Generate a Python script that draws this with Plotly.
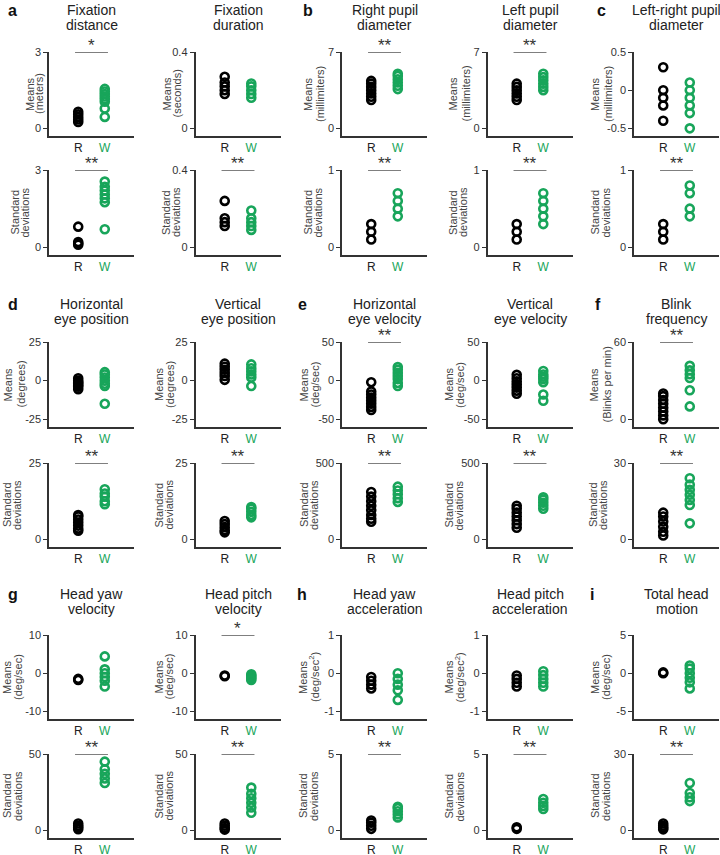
import plotly.graph_objects as go

# ---------------- data ----------------
# Group a-c
fixdist_mean_R = [0.25, 0.35, 0.45, 0.55, 0.65]
fixdist_mean_W = [0.45, 0.78, 1.05, 1.15, 1.25, 1.35, 1.45, 1.55]
fixdist_sd_R = [0.1, 0.15, 0.2, 0.8]
fixdist_sd_W = [0.7, 1.75, 1.9, 2.05, 2.2, 2.35, 2.55]
fixdur_mean_R = [0.18, 0.2, 0.22, 0.24, 0.27]
fixdur_mean_W = [0.16, 0.18, 0.2, 0.22, 0.235]
fixdur_sd_R = [0.11, 0.13, 0.15, 0.24]
fixdur_sd_W = [0.09, 0.11, 0.13, 0.15, 0.19]
rpupil_mean_R = [2.6, 2.9, 3.2, 3.5, 3.8, 4.1, 4.35]
rpupil_mean_W = [3.6, 3.9, 4.2, 4.5, 4.8, 5.0]
rpupil_sd_R = [0.1, 0.2, 0.3]
rpupil_sd_W = [0.4, 0.5, 0.6, 0.7]
lpupil_mean_R = [2.6, 2.9, 3.2, 3.5, 3.8, 4.1]
lpupil_mean_W = [3.5, 3.8, 4.1, 4.4, 4.7, 5.0]
lpupil_sd_R = [0.1, 0.2, 0.3]
lpupil_sd_W = [0.3, 0.4, 0.5, 0.6, 0.7]
lrpupil_mean_R = [0.3, 0.0, -0.1, -0.2, -0.4]
lrpupil_mean_W = [0.1, 0.0, -0.1, -0.2, -0.3, -0.5]
lrpupil_sd_R = [0.1, 0.2, 0.3]
lrpupil_sd_W = [0.4, 0.5, 0.7, 0.8]
# Group d-f
hpos_mean_R = [-5.5, -4, -3, -2, -1, 0, 1.5]
hpos_mean_W = [-15, -3.5, -2, 0, 2, 4, 5.5]
hpos_sd_R = [2.8, 3.5, 4.5, 5.5, 6.5, 7.5, 8]
hpos_sd_W = [11.5, 12.5, 14, 15, 16.4]
vpos_mean_R = [0.5, 3, 5, 7, 9, 11]
vpos_mean_W = [-3.5, 2, 4, 6, 8, 10.5]
vpos_sd_R = [2.3, 3, 4, 5, 6]
vpos_sd_W = [7.2, 8, 9, 10, 10.6]
hvel_mean_R = [-2, -14, -18, -22, -26, -30, -34, -38]
hvel_mean_W = [-7, -3, 2, 6, 10, 14, 17.5]
hvel_sd_R = [115, 135, 160, 190, 220, 250, 280, 310]
hvel_sd_W = [245, 270, 295, 320, 345]
vvel_mean_R = [-17, -13, -9, -5, -1, 3, 7.5]
vvel_mean_W = [-26, -18, -2, 2, 5, 8, 12.5]
vvel_sd_R = [76, 100, 125, 150, 175, 200, 220]
vvel_sd_W = [200, 220, 240, 260, 275]
blink_mean_R = [0, 3, 6, 9, 12, 15, 18, 20]
blink_mean_W = [10, 22.5, 32, 35, 38, 41.5]
blink_sd_R = [1.5, 3, 5, 7, 9, 10.5]
blink_sd_W = [6.3, 13.5, 15.5, 17.5, 19.5, 21.5, 24]
# Group g-i
yawvel_mean_R = [-1.5, -1.8]
yawvel_mean_W = [-3.5, -2, -1, 0, 1, 4.4]
yawvel_sd_R = [0.8, 2, 3, 4.5]
yawvel_sd_W = [31, 34, 37, 40, 45]
pitchvel_mean_R = [-0.6, -0.8]
pitchvel_mean_W = [-0.3, -0.7, -1.0, -1.4, -1.8]
pitchvel_sd_R = [0.5, 1.5, 3, 4.5]
pitchvel_sd_W = [11.5, 15, 18, 21, 24, 28]
yawacc_mean_R = [-0.1, -0.2, -0.3, -0.4]
yawacc_mean_W = [0.0, -0.15, -0.3, -0.45, -0.7]
yawacc_sd_R = [0.1, 0.3, 0.5, 0.65]
yawacc_sd_W = [0.85, 1.05, 1.25, 1.45, 1.55]
pitchacc_mean_R = [-0.06, -0.15, -0.25, -0.35]
pitchacc_mean_W = [0.05, -0.05, -0.15, -0.25, -0.35]
pitchacc_sd_R = [0.1, 0.2]
pitchacc_sd_W = [1.4, 1.6, 1.8, 2.05]
headmot_mean_R = [0.0, 0.1]
headmot_mean_W = [-2, -1.2, -0.6, 0, 0.6, 1.0]
headmot_sd_R = [0.4, 1, 1.8, 2.7]
headmot_sd_W = [11.5, 13, 14.7, 18.6]

group_labels = ["R", "W"]

titles = [
    [("Fixation", "distance"), ("Fixation", "duration"), ("Right pupil", "diameter"),
     ("Left pupil", "diameter"), ("Left-right pupil", "diameter")],
    [("Horizontal", "eye position"), ("Vertical", "eye position"), ("Horizontal", "eye velocity"),
     ("Vertical", "eye velocity"), ("Blink", "frequency")],
    [("Head yaw", "velocity"), ("Head pitch", "velocity"), ("Head yaw", "acceleration"),
     ("Head pitch", "acceleration"), ("Total head", "motion")],
]
mean_units = [
    ["(meters)", "(seconds)", "(millimiters)", "(millimiters)", "(millimiters)"],
    ["(degrees)", "(degrees)", "(deg/sec)", "(deg/sec)", "(Blinks per min)"],
    ["(deg/sec)", "(deg/sec)", "(deg/sec<sup>2</sup>)", "(deg/sec<sup>2</sup>)", "(deg/sec)"],
]
mean_ticks = [
    [[0, 3], [0, 0.4], [0, 7], [0, 7], [-0.5, 0, 0.5]],
    [[-25, 0, 25], [-25, 0, 25], [-50, 0, 50], [-50, 0, 50], [0, 60]],
    [[-10, 0, 10], [-10, 0, 10], [-1, 0, 1], [-1, 0, 1], [-5, 0, 5]],
]
sd_ticks = [
    [[0, 3], [0, 0.4], [0, 1], [0, 1], [0, 1]],
    [[0, 25], [0, 25], [0, 500], [0, 500], [0, 30]],
    [[0, 50], [0, 50], [0, 5], [0, 5], [0, 30]],
]
mean_sig = [["*", "", "**", "**", ""], ["", "", "**", "", "**"], ["", "*", "", "", ""]]
sd_sig = [["**"] * 5, ["**"] * 5, ["**"] * 5]

mean_data = [
    [(fixdist_mean_R, fixdist_mean_W), (fixdur_mean_R, fixdur_mean_W), (rpupil_mean_R, rpupil_mean_W),
     (lpupil_mean_R, lpupil_mean_W), (lrpupil_mean_R, lrpupil_mean_W)],
    [(hpos_mean_R, hpos_mean_W), (vpos_mean_R, vpos_mean_W), (hvel_mean_R, hvel_mean_W),
     (vvel_mean_R, vvel_mean_W), (blink_mean_R, blink_mean_W)],
    [(yawvel_mean_R, yawvel_mean_W), (pitchvel_mean_R, pitchvel_mean_W), (yawacc_mean_R, yawacc_mean_W),
     (pitchacc_mean_R, pitchacc_mean_W), (headmot_mean_R, headmot_mean_W)],
]
sd_data = [
    [(fixdist_sd_R, fixdist_sd_W), (fixdur_sd_R, fixdur_sd_W), (rpupil_sd_R, rpupil_sd_W),
     (lpupil_sd_R, lpupil_sd_W), (lrpupil_sd_R, lrpupil_sd_W)],
    [(hpos_sd_R, hpos_sd_W), (vpos_sd_R, vpos_sd_W), (hvel_sd_R, hvel_sd_W),
     (vvel_sd_R, vvel_sd_W), (blink_sd_R, blink_sd_W)],
    [(yawvel_sd_R, yawvel_sd_W), (pitchvel_sd_R, pitchvel_sd_W), (yawacc_sd_R, yawacc_sd_W),
     (pitchacc_sd_R, pitchacc_sd_W), (headmot_sd_R, headmot_sd_W)],
]
panel_letters = ["a", "b", "c", "d", "e", "f", "g", "h", "i"]

# ---------------- layout geometry (pixels) ----------------
W_PX, H_PX = 720, 855
col_x0 = [49, 195.5, 342, 487.5, 634]
plot_w = 85
mean_rows = [(52, 136), (342, 427), (635, 719)]
sd_rows = [(170, 255), (463, 547), (754, 838)]
title_lines_y = [(10, 25), (304, 319), (594, 609)]
letter_pos = [[13, 308, 601], [13, 302, 598], [13, 302, 592]]
# horizontal offsets (px, from the y axis line) of the two y-title lines
mean_title_off = [
    [(-19, -10), (-29, -19), (-34, -22), (-35, -22), (-39, -26)],
    [(-42, -29), (-37, -26), (-39, -28), (-39, -28), (-41, -28)],
    [(-42, -31), (-37, -27), (-39, -28), (-39, -28), (-39, -28)],
]
sd_title_off = [
    [(-34, -24), (-29, -19), (-34, -24), (-34, -24), (-39, -28)],
    [(-42, -32), (-37, -27), (-38, -28), (-39, -29), (-41, -31)],
    [(-42, -31), (-37, -27), (-39, -28), (-39, -28), (-39, -28)],
]

BLACK = "#000000"
GREEN = "#18A55A"
AXC = "#333333"
FONT = "Liberation Sans, Arial, sans-serif"

fig = go.Figure()
layout = dict(
    template="none",
    width=W_PX, height=H_PX, margin=dict(l=0, r=0, t=0, b=0, autoexpand=False),
    paper_bgcolor="white", plot_bgcolor="white", showlegend=False,
    font=dict(family=FONT, color="#222222"),
)
shapes, annotations = [], []
ax_i = 0


def fmt(v):
    return "%g" % v


def add_panel(data, ticks, sig, ytitle_lines, title_off, row_px, c):
    global ax_i
    ax_i += 1
    xname = "xaxis" if ax_i == 1 else "xaxis%d" % ax_i
    yname = "yaxis" if ax_i == 1 else "yaxis%d" % ax_i
    xref = "x" if ax_i == 1 else "x%d" % ax_i
    yref = "y" if ax_i == 1 else "y%d" % ax_i
    lo, hi = min(ticks), max(ticks)
    rng = [lo - 0.1 * (hi - lo), hi]
    top, bot = row_px
    x0 = col_x0[c]
    layout[xname] = dict(
        domain=[x0 / W_PX, min((x0 + plot_w) / W_PX, 1.0)], anchor=yref, automargin=False,
        range=[-1.1, 2.1], showgrid=False, zeroline=False, showline=True,
        linecolor=AXC, linewidth=1.5, ticks="", tickvals=[0, 1],
        ticktext=["R", "<span style='color:%s'>W</span>" % GREEN],
        tickfont=dict(size=12, color="#222222", family=FONT), fixedrange=True,
    )
    layout[yname] = dict(
        domain=[1 - bot / H_PX, 1 - top / H_PX], anchor=xref, automargin=False,
        range=rng, showgrid=False, zeroline=False, showline=True,
        linecolor=AXC, linewidth=1.5, ticks="outside", ticklen=4, tickwidth=1,
        tickcolor=AXC, tickvals=ticks, ticktext=[fmt(t) for t in ticks],
        tickfont=dict(size=11, color="#333333", family=FONT),
        fixedrange=True,
    )
    # two-line rotated y title
    ymid = 1 - ((top + bot) / 2) / H_PX
    for line, off in zip(ytitle_lines, title_off):
        annotations.append(dict(text=line, xref="paper", yref="paper", x=(x0 + off) / W_PX, y=ymid,
                                xanchor="center", yanchor="middle", textangle=-90, showarrow=False,
                                font=dict(size=11, color="#444444", family=FONT)))
    r_vals, w_vals = data
    fig.add_trace(go.Scatter(
        x=[0] * len(r_vals), y=r_vals, mode="markers", xaxis=xref, yaxis=yref,
        marker=dict(symbol="circle-open", size=8, color=BLACK, line=dict(width=2.6, color=BLACK)),
        cliponaxis=False, hoverinfo="skip"))
    fig.add_trace(go.Scatter(
        x=[1] * len(w_vals), y=w_vals, mode="markers", xaxis=xref, yaxis=yref,
        marker=dict(symbol="circle-open", size=8, color=GREEN, line=dict(width=2.6, color=GREEN)),
        cliponaxis=False, hoverinfo="skip"))
    if sig:
        shapes.append(dict(type="line", xref=xref, yref=yref, x0=-0.12, x1=1.12, y0=hi, y1=hi,
                           line=dict(color="#555555", width=1.3)))
        annotations.append(dict(text=sig, xref=xref, yref=yref, x=0.5, y=hi, showarrow=False,
                                yanchor="bottom", yshift=-5, font=dict(size=17, color="#333333", family=FONT)))


for g in range(3):
    for c in range(5):
        add_panel(mean_data[g][c], mean_ticks[g][c], mean_sig[g][c],
                  ("Means", mean_units[g][c]), mean_title_off[g][c], mean_rows[g], c)
        add_panel(sd_data[g][c], sd_ticks[g][c], sd_sig[g][c],
                  ("Standard", "deviations"), sd_title_off[g][c], sd_rows[g], c)
        cx = (col_x0[c] + plot_w / 2) / W_PX
        for line, ly in zip(titles[g][c], title_lines_y[g]):
            annotations.append(dict(text=line, xref="paper", yref="paper", x=cx,
                                    y=1 - ly / H_PX, xanchor="center", yanchor="middle",
                                    showarrow=False, font=dict(size=14, color="#222222", family=FONT)))
    for k, lx in enumerate(letter_pos[g]):
        annotations.append(dict(text="<b>%s</b>" % panel_letters[g * 3 + k], xref="paper", yref="paper",
                                x=lx / W_PX, y=1 - title_lines_y[g][0] / H_PX, xanchor="center",
                                yanchor="middle", showarrow=False,
                                font=dict(size=16, color="#111111", family=FONT)))

layout["shapes"] = shapes
layout["annotations"] = annotations
fig.update_layout(**layout)
fig.write_html("out.html", config={"displayModeBar": False},
               post_script="document.body.style.margin='0px';")
